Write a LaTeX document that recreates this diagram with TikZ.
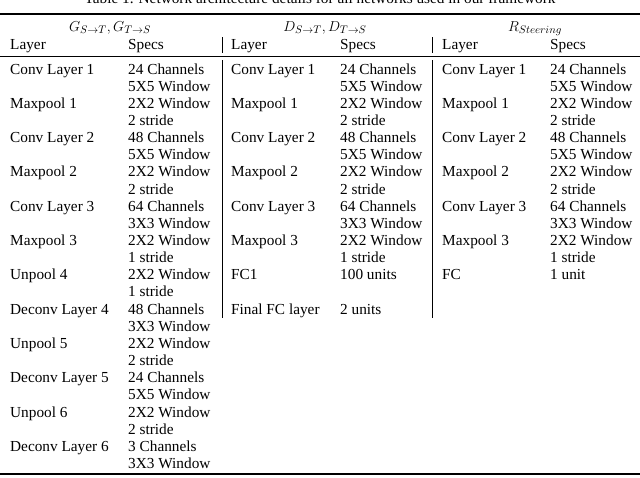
\documentclass[tikz,border=0pt]{standalone}
\usepackage{fontspec}
\setmainfont{Liberation Serif}
\begin{document}
\begin{tikzpicture}[x=1pt,y=-1pt,
  t/.style={anchor=base west,inner sep=0pt,font=\fontsize{15.3}{17}\selectfont},
  h/.style={anchor=base,inner sep=0pt,font=\fontsize{15.3}{17}\selectfont},
  rule/.style={line width=#1}]
\useasboundingbox (0,0) rectangle (640,477);
\node[h] (cap) at (320,3) {Table 1. Network architecture details for all networks used in our framework};
\draw[rule=1.2pt] (0,14) -- (640,14);
\node[h] (hg) at (110,31) {$G_{S\to T},G_{T\to S}$};
\node[h] (hd) at (325,31) {$D_{S\to T},D_{T\to S}$};
\node[h] (hr) at (535,31) {$R_{Steering}$};
\node[t] (l1) at (10,49) {Layer}; \node[t] (s1) at (128,49) {Specs};
\node[t] (l2) at (231,49) {Layer}; \node[t] (s2) at (340,49) {Specs};
\node[t] (l3) at (442,49) {Layer}; \node[t] (s3) at (550,49) {Specs};
\draw[rule=0.5pt] (222,37) -- (222,53) (432,37) -- (432,53);
\draw[rule=0.7pt] (0,56) -- (640,56);
\draw[rule=0.5pt] (222,60) -- (222,318) (432,60) -- (432,318);
\foreach \r/\a/\b [count=\i] in {0/Conv Layer 1/24 Channels,1//5X5 Window,2/Maxpool 1/2X2 Window,3//2 stride,
 4/Conv Layer 2/48 Channels,5//5X5 Window,6/Maxpool 2/2X2 Window,7//2 stride,
 8/Conv Layer 3/64 Channels,9//3X3 Window,10/Maxpool 3/2X2 Window,11//1 stride,
 12/Unpool 4/2X2 Window,13//1 stride,14/Deconv Layer 4/48 Channels,15//3X3 Window,
 16/Unpool 5/2X2 Window,17//2 stride,18/Deconv Layer 5/24 Channels,19//5X5 Window,
 20/Unpool 6/2X2 Window,21//2 stride,22/Deconv Layer 6/3 Channels,23//3X3 Window}
 {\node[t] (ga\i) at (10,74+17.15*\r) {\a}; \node[t] (gb\i) at (128,74+17.15*\r) {\b};}
\foreach \r/\a/\b [count=\i] in {0/Conv Layer 1/24 Channels,1//5X5 Window,2/Maxpool 1/2X2 Window,3//2 stride,
 4/Conv Layer 2/48 Channels,5//5X5 Window,6/Maxpool 2/2X2 Window,7//2 stride,
 8/Conv Layer 3/64 Channels,9//3X3 Window,10/Maxpool 3/2X2 Window,11//1 stride,
 12/FC1/100 units,14/Final FC layer/2 units}
 {\node[t] (da\i) at (231,74+17.15*\r) {\a}; \node[t] (db\i) at (340,74+17.15*\r) {\b};}
\foreach \r/\a/\b [count=\i] in {0/Conv Layer 1/24 Channels,1//5X5 Window,2/Maxpool 1/2X2 Window,3//2 stride,
 4/Conv Layer 2/48 Channels,5//5X5 Window,6/Maxpool 2/2X2 Window,7//2 stride,
 8/Conv Layer 3/64 Channels,9//3X3 Window,10/Maxpool 3/2X2 Window,11//1 stride,
 12/FC/1 unit}
 {\node[t] (ra\i) at (442,74+17.15*\r) {\a}; \node[t] (rb\i) at (550,74+17.15*\r) {\b};}
\draw[rule=1.2pt] (0,474) -- (640,474);
\end{tikzpicture}
\end{document}
